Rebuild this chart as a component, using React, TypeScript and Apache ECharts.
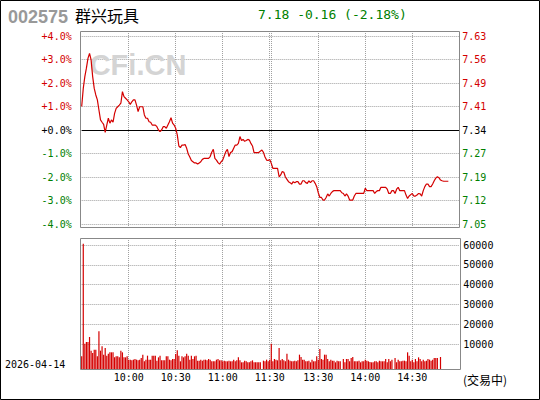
import React, { useEffect, useRef } from "react";
import * as echarts from "echarts";

const PCT_TICKS = [-4, -3, -2, -1, 0, 1, 2, 3, 4];
const PCT_LABELS = ["-4.0%", "-3.0%", "-2.0%", "-1.0%", "+0.0%", "+1.0%", "+2.0%", "+3.0%", "+4.0%"];
const PRICE_LABELS = ["7.05", "7.12", "7.19", "7.27", "7.34", "7.41", "7.49", "7.56", "7.63"];
const VOL_TICKS = [10000, 20000, 30000, 40000, 50000, 60000];
const VOL_LABELS = ["10000", "20000", "30000", "40000", "50000", "60000"];
const TIME_LABELS = ["10:00", "10:30", "11:00", "11:30", "13:30", "14:00", "14:30"];
const GRID_TIMES = ["10:00", "10:30", "11:00", "11:30", "13:00", "13:30", "14:00", "14:30"];
const SESSIONS = [["09:30", "11:30"], ["13:00", "15:00"]];

// percent change vs previous close, one per minute
const PCT_CHANGE = [
  1.00, 1.77, 2.27, 2.63, 3.05, 3.26, 2.98, 2.27, 1.77, 1.49,
  1.28, 0.85, 0.43, 0.33, 0.24, -0.10, 0.21, 0.50, 0.29, 0.43,
  0.33, 0.71, 0.92, 0.99, 1.06, 1.14, 1.63, 1.42, 1.35, 1.28,
  1.20, 1.09, 1.20, 1.28, 1.28, 1.06, 0.78, 0.99, 0.99, 0.99,
  0.64, 0.50, 0.50, 0.35, 0.33, 0.21, 0.21, 0.21, 0.14, 0.00,
  -0.07, 0.00, 0.14, 0.14, 0.07, 0.21, 0.35, 0.52, 0.29, 0.21,
  0.07, -0.21, -0.68, -0.75, -0.64, -0.64, -0.62, -0.78, -1.02, -1.15,
  -1.30, -1.35, -1.40, -1.40, -1.45, -1.40, -1.35, -1.25, -1.21, -1.21,
  -1.21, -1.21, -1.13, -0.95, -0.82, -1.21, -1.28, -1.39, -1.45, -1.35,
  -1.28, -1.10, -0.92, -0.82, -1.13, -0.96, -0.92, -0.78, -0.64, -0.64,
  -0.57, -0.28, -0.45, -0.40, -0.48, -0.45, -0.40, -0.43, -0.57, -0.68,
  -0.96, -0.96, -0.96, -0.96, -0.90, -0.85, -0.95, -1.15, -1.28, -1.30,
  -1.25, -1.42, -1.63, -1.63, -1.63, -1.63, -1.99, -1.91, -1.77, -1.80,
  -2.00, -2.10, -2.20, -2.24, -2.30, -2.20, -2.24, -2.20, -2.20, -2.30,
  -2.30, -2.16, -2.16, -2.24, -2.27, -2.16, -2.24, -2.16, -2.16, -2.27,
  -2.41, -2.67, -2.87, -2.87, -2.98, -2.98, -2.87, -2.72, -2.81, -2.70,
  -2.62, -2.58, -2.58, -2.58, -2.58, -2.58, -2.67, -2.70, -2.81, -2.72,
  -2.81, -2.98, -2.98, -2.98, -2.81, -2.70, -2.70, -2.70, -2.70, -2.70,
  -2.70, -2.48, -2.58, -2.58, -2.58, -2.58, -2.58, -2.70, -2.62, -2.58,
  -2.58, -2.44, -2.44, -2.44, -2.44, -2.52, -2.70, -2.70, -2.58, -2.58,
  -2.70, -2.52, -2.44, -2.58, -2.58, -2.58, -2.58, -2.77, -2.91, -2.81,
  -2.75, -2.70, -2.81, -2.81, -2.77, -2.70, -2.72, -2.81, -2.58, -2.41,
  -2.30, -2.30, -2.41, -2.41, -2.30, -2.16, -2.05, -1.99, -2.03, -2.13,
  -2.16, -2.18, -2.18, -2.18, -2.18,
];

// per-minute volume
const VOLUME = [
  6420, 63500, 12840, 13690, 13690, 16220, 9300, 8110, 9800, 9800,
  6420, 19100, 9300, 11500, 7270, 10650, 6760, 7770, 8450, 8450,
  8450, 5900, 6420, 6420, 5900, 9300, 8450, 5900, 5900, 6420,
  4730, 4730, 4390, 4730, 5070, 4730, 4390, 4730, 5580, 7270,
  3890, 4730, 6760, 4730, 4730, 6760, 6760, 6760, 4220, 5900,
  6760, 4390, 4390, 4390, 6420, 6420, 4730, 4390, 5070, 5070,
  7600, 9460, 6760, 3890, 6420, 5900, 6420, 7770, 6760, 4730,
  6760, 5070, 6420, 6760, 4220, 4220, 4730, 4220, 4730, 4730,
  4390, 5070, 4730, 3890, 3890, 3890, 4730, 5070, 4390, 4390,
  3890, 4220, 3890, 3890, 4220, 3890, 3890, 4730, 3890, 4390,
  5910, 4390, 3380, 3380, 4220, 3890, 3380, 3380, 3890, 4390,
  3380, 3380, 3380, 3380, 3380, 0, 4220, 3890, 4730, 3890,
  4730, 12840, 3890, 5070, 4730, 4390, 10650, 4390, 5070, 4390,
  3890, 7770, 4730, 4220, 3890, 3890, 4220, 3890, 4390, 7270,
  6080, 4730, 4730, 3890, 3890, 4220, 3380, 4730, 3890, 3890,
  6420, 4730, 10140, 5070, 4730, 7270, 7270, 5070, 3890, 4730,
  4220, 4220, 3380, 4220, 3890, 3890, 0, 5070, 3380, 5070,
  5070, 3890, 5580, 6080, 3890, 3890, 3890, 4220, 3380, 3890,
  3890, 4730, 4220, 3890, 3550, 3380, 3380, 3890, 3890, 3380,
  4220, 3890, 3890, 3890, 5070, 3380, 5070, 3890, 4730, 0,
  5580, 3380, 4730, 3890, 3890, 4220, 4220, 3890, 8450, 6760,
  3890, 4730, 3380, 5070, 3890, 5910, 5070, 3890, 4730, 3890,
  4220, 5070, 4730, 4220, 4730, 5580, 5580, 5580, 0, 6080,
];

function buildMinutes(): string[] {
  const out: string[] = [];
  for (const [s, e] of SESSIONS) {
    const [sh, sm] = s.split(":").map(Number);
    const [eh, em] = e.split(":").map(Number);
    for (let t = sh * 60 + sm; t <= eh * 60 + em; t++) {
      const h = Math.floor(t / 60);
      const m = t % 60;
      out.push(String(h).padStart(2, "0") + ":" + String(m).padStart(2, "0"));
    }
  }
  return out;
}

const RED = "#d40000";
const GREEN = "#008000";
const GRIDC = "#a0a0a0";
const MONO = '"DejaVu Sans Mono", monospace';

export default function App() {
  const ref = useRef<HTMLDivElement>(null);
  useEffect(() => {
    if (!ref.current) return;
    const chart = echarts.init(ref.current, null, { renderer: "svg" });
    const minutes = buildMinutes();
    const labelIdx = new Set<number>();
    TIME_LABELS.forEach((t) => {
      const i = t === "11:30" ? minutes.indexOf(t) : minutes.lastIndexOf(t);
      labelIdx.add(i);
    });
    const gridIdx = new Set<number>(GRID_TIMES.map((t) => minutes.indexOf(t)));

    const L = 81.7;
    const W = 377.6;
    const pctColor = (v: any) => (Number(v) > 0 ? RED : Number(v) < 0 ? GREEN : "#000");
    const dotted = { color: GRIDC, type: [1, 1] as any, width: 1 };

    const option: any = {
      animation: false,
      backgroundColor: "#fff",
      grid: [
        { left: L, width: W, top: 36, height: 188 },
        { left: L, width: W, top: 31, height: 196 },
        { left: L, width: W, top: 245, height: 99 },
        { left: L, width: W, top: 238, height: 131 },
      ],
      xAxis: [0, 1, 2, 3].map((g) => ({
        type: "category",
        gridIndex: g,
        data: minutes,
        boundaryGap: false,
        axisLine: { show: false },
        axisTick: { show: false },
        axisLabel:
          g === 3
            ? {
                show: true,
                interval: (i: number) => labelIdx.has(i),
                margin: 3,
                color: "#000",
                fontSize: 10,
                fontFamily: MONO,
              }
            : { show: false },
        splitLine:
          g === 1 || g === 3
            ? { show: true, interval: (i: number) => gridIdx.has(i), lineStyle: dotted }
            : { show: false },
      })),
      yAxis: [
        {
          type: "value",
          gridIndex: 0,
          position: "left",
          min: -4,
          max: 4,
          interval: 1,
          axisLine: { show: false },
          axisTick: { show: false },
          splitLine: { show: true, lineStyle: dotted },
          axisLabel: {
            margin: 10,
            fontSize: 10,
            fontFamily: MONO,
            color: pctColor,
            formatter: (v: number) => PCT_LABELS[PCT_TICKS.indexOf(Math.round(v))] ?? "",
          },
        },
        {
          type: "value",
          gridIndex: 0,
          position: "right",
          min: -4,
          max: 4,
          interval: 1,
          axisLine: { show: false },
          axisTick: { show: false },
          splitLine: { show: false },
          axisLabel: {
            margin: 3,
            fontSize: 10,
            fontFamily: MONO,
            color: pctColor,
            formatter: (v: number) => PRICE_LABELS[PCT_TICKS.indexOf(Math.round(v))] ?? "",
          },
        },
        { type: "value", gridIndex: 1, show: false, min: 0, max: 1 },
        {
          type: "value",
          gridIndex: 2,
          position: "right",
          min: 10000,
          max: 60000,
          interval: 10000,
          axisLine: { show: false },
          axisTick: { show: false },
          splitLine: { show: true, lineStyle: dotted },
          axisLabel: {
            margin: 4,
            fontSize: 10,
            fontFamily: MONO,
            color: "#000",
            formatter: (v: number) => VOL_LABELS[VOL_TICKS.indexOf(Math.round(v))] ?? "",
          },
        },
        { type: "value", gridIndex: 3, show: false, min: 0, max: 66400 },
      ],
      series: [
        {
          type: "line",
          xAxisIndex: 0,
          yAxisIndex: 0,
          data: PCT_CHANGE,
          showSymbol: false,
          symbol: "none",
          lineStyle: { color: RED, width: 1.2 },
          z: 5,
          markLine: {
            silent: true,
            symbol: "none",
            label: { show: false },
            lineStyle: { color: "#000", type: "solid", width: 1 },
            data: [{ yAxis: 0 }],
          },
        },
        {
          type: "bar",
          xAxisIndex: 3,
          yAxisIndex: 4,
          data: VOLUME,
          barWidth: 1.2,
          itemStyle: { color: RED },
        },
      ],
      graphic: [
        {
          type: "text",
          x: 138,
          y: 65,
          z: 1,
          style: {
            text: "CFi.CN",
            font: 'bold 29px "Liberation Sans", Arial, sans-serif',
            fill: "#d4d4d4",
            textAlign: "center",
            textVerticalAlign: "middle",
          },
        },
        {
          type: "rect",
          z: 10,
          shape: { x: 80.5, y: 31.5, width: 379, height: 196 },
          style: { fill: "none", stroke: "#888", lineWidth: 1 },
        },
        {
          type: "rect",
          z: 10,
          shape: { x: 80.5, y: 238.5, width: 380, height: 131 },
          style: { fill: "none", stroke: "#888", lineWidth: 1 },
        },
        {
          type: "rect",
          z: 10,
          shape: { x: 0.5, y: 0.5, width: 539, height: 399 },
          style: { fill: "none", stroke: "#000", lineWidth: 1 },
        },
        {
          type: "text",
          x: 8,
          y: 16.5,
          style: {
            text: "002575",
            font: 'bold 18px "Liberation Sans", Arial, sans-serif',
            fill: "#999",
            textVerticalAlign: "middle",
          },
        },
        {
          type: "text",
          x: 75,
          y: 15,
          style: {
            text: "群兴玩具",
            font: '16px "Noto Sans CJK SC", sans-serif',
            fill: "#000",
            textVerticalAlign: "middle",
          },
        },
        {
          type: "text",
          x: 258,
          y: 14.5,
          style: {
            text: "7.18 -0.16 (-2.18%)",
            font: '13px "DejaVu Sans Mono", monospace',
            fill: GREEN,
            textVerticalAlign: "middle",
          },
        },
        {
          type: "text",
          x: 5,
          y: 364,
          style: {
            text: "2026-04-14",
            font: '10px "DejaVu Sans Mono", monospace',
            fill: "#000",
            textVerticalAlign: "middle",
          },
        },
        {
          type: "text",
          x: 463,
          y: 379,
          style: {
            text: "(交易中)",
            font: '12px "Noto Sans CJK SC", sans-serif',
            fill: "#000",
            textVerticalAlign: "middle",
          },
        },
      ],
    };
    chart.setOption(option);
    return () => chart.dispose();
  }, []);
  return (
    <div
      ref={ref}
      style={{ position: "fixed", left: 0, top: 0, width: 540, height: 400, background: "#fff" }}
    />
  );
}
